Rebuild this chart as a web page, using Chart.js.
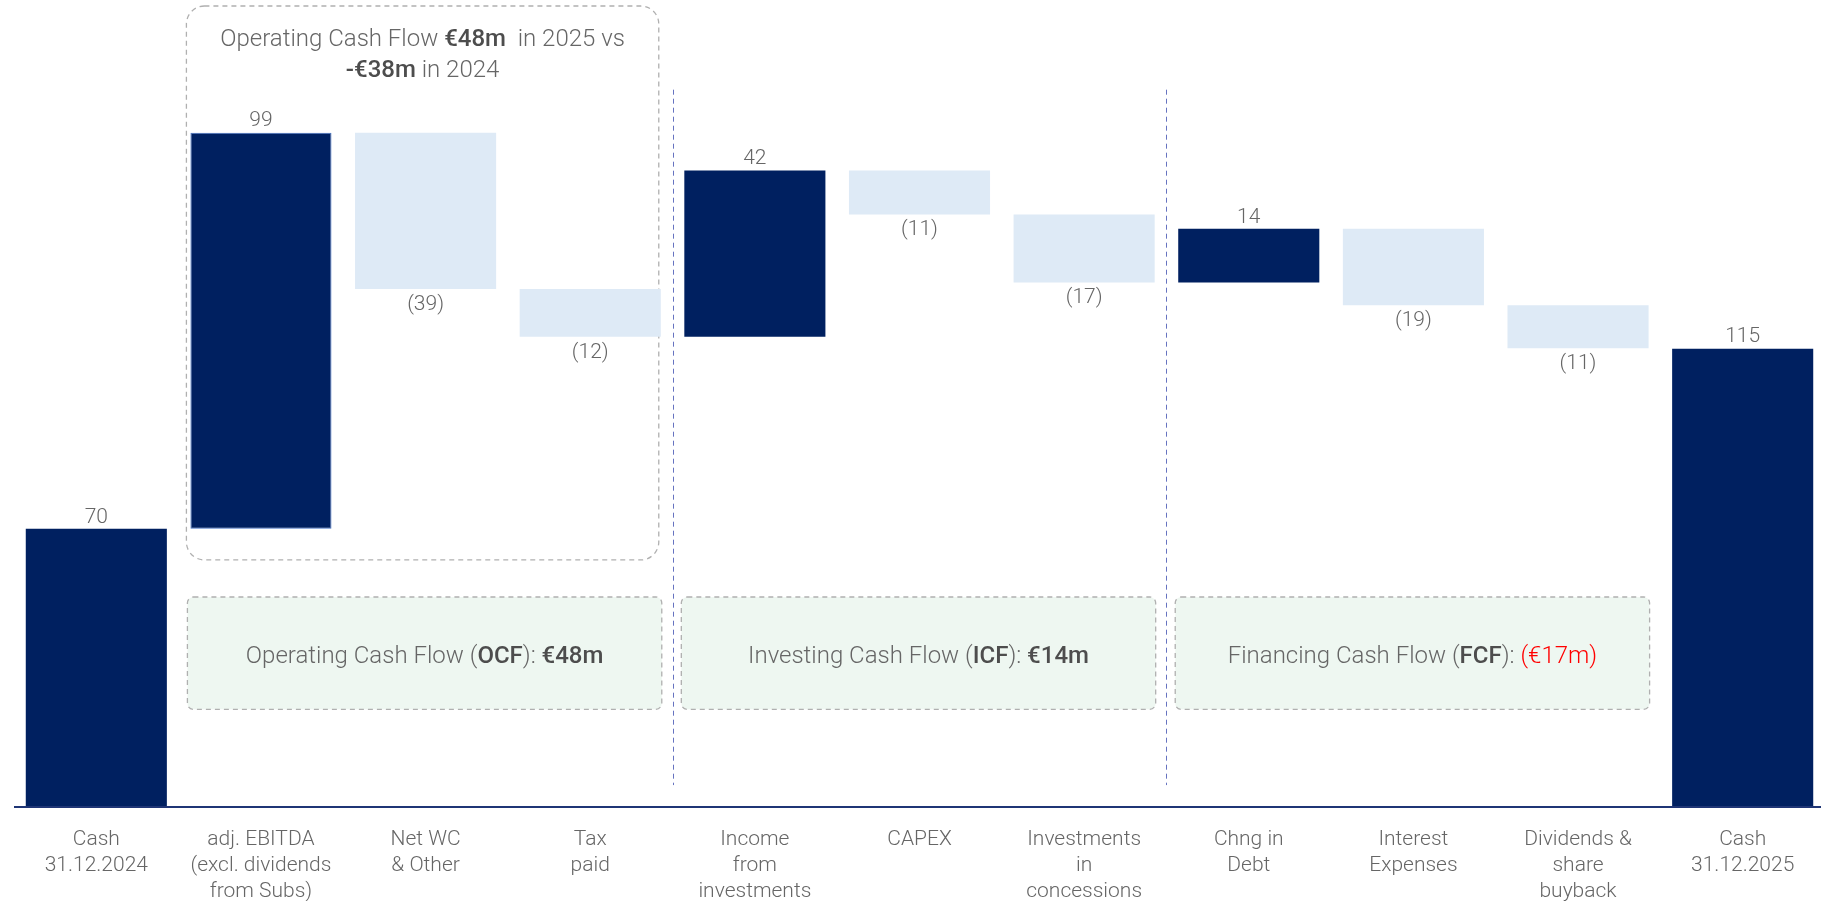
<!DOCTYPE html>
<html>
<head>
<meta charset="utf-8">
<script src="https://cdn.jsdelivr.net/npm/chart.js@4.4.1/dist/chart.umd.min.js"></script>
<style>
  html, body { margin: 0; padding: 0; background: #ffffff; overflow: hidden; }
  #wrap { width: 1825px; height: 901px; }
</style>
</head>
<body>
<div id="wrap"><canvas id="c" width="1825" height="901"></canvas></div>
<script>
// ---- data ----
const categories = [
  ["Cash", "31.12.2024"],
  ["adj. EBITDA", "(excl. dividends", "from Subs)"],
  ["Net WC", "& Other"],
  ["Tax", "paid"],
  ["Income", "from", "investments"],
  ["CAPEX"],
  ["Investments", "in", "concessions"],
  ["Chng in", "Debt"],
  ["Interest", "Expenses"],
  ["Dividends &", "share", "buyback"],
  ["Cash", "31.12.2025"]
];
const openingCash = 69.8;
const flows = [99.4, -39.2, -12.0, 41.7, -11.0, -17.1, 13.5, -19.2, -10.8];
const closingCash = 115.0;
const valueLabels = ["70", "99", "(39)", "(12)", "42", "(11)", "(17)", "14", "(19)", "(11)", "115"];
const groupLabels = [
  { first: 1, last: 3, parts: [["Operating Cash Flow (", false], ["OCF", true], ["): ", false], ["€48m", true]] },
  { first: 4, last: 6, parts: [["Investing Cash Flow (", false], ["ICF", true], ["): ", false], ["€14m", true]] },
  { first: 7, last: 9, parts: [["Financing Cash Flow (", false], ["FCF", true], ["): ", false], ["(€17m)", false, "#ff0000"]] }
];
const ocfTitleLines = [
  [["Operating Cash Flow ", false], ["€48m", true], ["  in 2025 vs", false]],
  [["-€38m", true], [" in 2024", false]]
];

// ---- build floating bars ----
const ranges = [];
const kinds = [];
ranges.push([0, openingCash]); kinds.push("total");
let run = openingCash;
flows.forEach(f => {
  ranges.push([run, run + f]);
  kinds.push(f >= 0 ? "up" : "down");
  run += f;
});
ranges.push([0, closingCash]); kinds.push("total");

const DARK = "#002060";
const LIGHT = "#DEEAF6";
const colors = kinds.map(k => k === "down" ? LIGHT : DARK);
const borders = kinds.map((k, i) => i === 1 ? "#4472C4" : "rgba(0,0,0,0)");
const borderW = kinds.map((k, i) => i === 1 ? 1 : 0);

const FONT = "Roboto, 'Liberation Sans', Arial, sans-serif";
const TEXT = "#666666";

function drawRich(ctx, parts, cx, cy, size, baseColor) {
  const fontOf = p => (p[1] ? "500 " : "300 ") + size + "px " + FONT;
  let widths = parts.map(p => { ctx.font = fontOf(p); return ctx.measureText(p[0]).width; });
  const total = widths.reduce((a, b) => a + b, 0);
  let x = cx - total / 2;
  ctx.textBaseline = "middle";
  ctx.textAlign = "left";
  parts.forEach((p, i) => {
    ctx.font = fontOf(p);
    ctx.fillStyle = p[2] ? p[2] : (p[1] ? "#4d4d4d" : baseColor);
    ctx.fillText(p[0], x, cy);
    x += widths[i];
  });
}

function roundRect(ctx, x, y, w, h, r) {
  ctx.beginPath();
  ctx.moveTo(x + r, y);
  ctx.lineTo(x + w - r, y);
  ctx.arcTo(x + w, y, x + w, y + r, r);
  ctx.lineTo(x + w, y + h - r);
  ctx.arcTo(x + w, y + h, x + w - r, y + h, r);
  ctx.lineTo(x + r, y + h);
  ctx.arcTo(x, y + h, x, y + h - r, r);
  ctx.lineTo(x, y + r);
  ctx.arcTo(x, y, x + r, y, r);
  ctx.closePath();
}

const decor = {
  id: "decor",
  beforeDatasetsDraw(chart) {
    const ctx = chart.ctx;
    const xs = chart.scales.x, ys = chart.scales.y;
    const meta = chart.getDatasetMeta(0);
    const half = meta.data[0].width / 2;
    ctx.save();
    // vertical separators
    ctx.strokeStyle = "#6673C0";
    ctx.lineWidth = 1;
    ctx.setLineDash([5, 4]);
    [[3, 4], [6, 7]].forEach(([a, b]) => {
      const x = Math.round((xs.getPixelForValue(a) + xs.getPixelForValue(b)) / 2) + 0.5;
      ctx.beginPath();
      ctx.moveTo(x, ys.getPixelForValue(180));
      ctx.lineTo(x, ys.getPixelForValue(5.5));
      ctx.stroke();
    });
    // top OCF dashed box
    ctx.strokeStyle = "#b0b0b0";
    ctx.lineWidth = 1.3;
    ctx.setLineDash([5, 4]);
    {
      const l = xs.getPixelForValue(1) - half - 4;
      const r = xs.getPixelForValue(3) + half - 2;
      const t = ys.getPixelForValue(201);
      const b = ys.getPixelForValue(62);
      roundRect(ctx, l, t, r - l, b - t, 18);
      ctx.stroke();
      const cx = (l + r) / 2;
      drawRich(ctx, ocfTitleLines[0], cx, ys.getPixelForValue(192.4), 24, TEXT);
      drawRich(ctx, ocfTitleLines[1], cx, ys.getPixelForValue(184.7), 24, TEXT);
    }
    // green boxes
    groupLabels.forEach(g => {
      const l = xs.getPixelForValue(g.first) - half - 3;
      const r = xs.getPixelForValue(g.last) + half + 1;
      const t = ys.getPixelForValue(52.7);
      const b = ys.getPixelForValue(24.5);
      ctx.setLineDash([5, 4]);
      roundRect(ctx, l, t, r - l, b - t, 6);
      ctx.fillStyle = "#EEF7F1";
      ctx.fill();
      ctx.strokeStyle = "#b0b0b0";
      ctx.stroke();
      ctx.setLineDash([]);
      drawRich(ctx, g.parts, (l + r) / 2, (t + b) / 2 + 4, 24, TEXT);
    });
    ctx.restore();
  },
  afterDatasetsDraw(chart) {
    const ctx = chart.ctx;
    const meta = chart.getDatasetMeta(0);
    ctx.save();
    ctx.font = "300 21px " + FONT;
    ctx.fillStyle = TEXT;
    ctx.textAlign = "center";
    meta.data.forEach((bar, i) => {
      const top = Math.min(bar.y, bar.base);
      const bottom = Math.max(bar.y, bar.base);
      if (kinds[i] === "down") {
        ctx.textBaseline = "top";
        ctx.fillText(valueLabels[i], bar.x, bottom + 5);
      } else {
        ctx.textBaseline = "bottom";
        ctx.fillText(valueLabels[i], bar.x, top - 1);
      }
    });
    // baseline
    const ys = chart.scales.y;
    const y0 = ys.getPixelForValue(0);
    ctx.strokeStyle = "#1f3575";
    ctx.lineWidth = 2;
    ctx.beginPath();
    ctx.moveTo(chart.chartArea.left, y0);
    ctx.lineTo(chart.width, y0);
    ctx.stroke();
    ctx.restore();
  }
};

new Chart(document.getElementById("c"), {
  type: "bar",
  data: {
    labels: categories,
    datasets: [{
      data: ranges,
      backgroundColor: colors,
      borderColor: borders,
      borderWidth: borderW,
      borderSkipped: false,
      barPercentage: 0.857,
      categoryPercentage: 1.0
    }]
  },
  options: {
    responsive: false,
    animation: false,
    layout: { padding: { left: 14, right: 0, top: 10, bottom: 0 } },
    plugins: { legend: { display: false }, tooltip: { enabled: false } },
    scales: {
      x: {
        grid: { display: false, drawTicks: false },
        border: { display: false },
        afterFit(scale) { scale.height = 94; },
        ticks: {
          color: TEXT,
          font: { family: FONT, size: 21, weight: 300, lineHeight: 1.23 },
          padding: 20,
          maxRotation: 0,
          autoSkip: false
        }
      },
      y: {
        display: false,
        min: 0,
        max: 200
      }
    }
  },
  plugins: [decor]
});
</script>
</body>
</html>
